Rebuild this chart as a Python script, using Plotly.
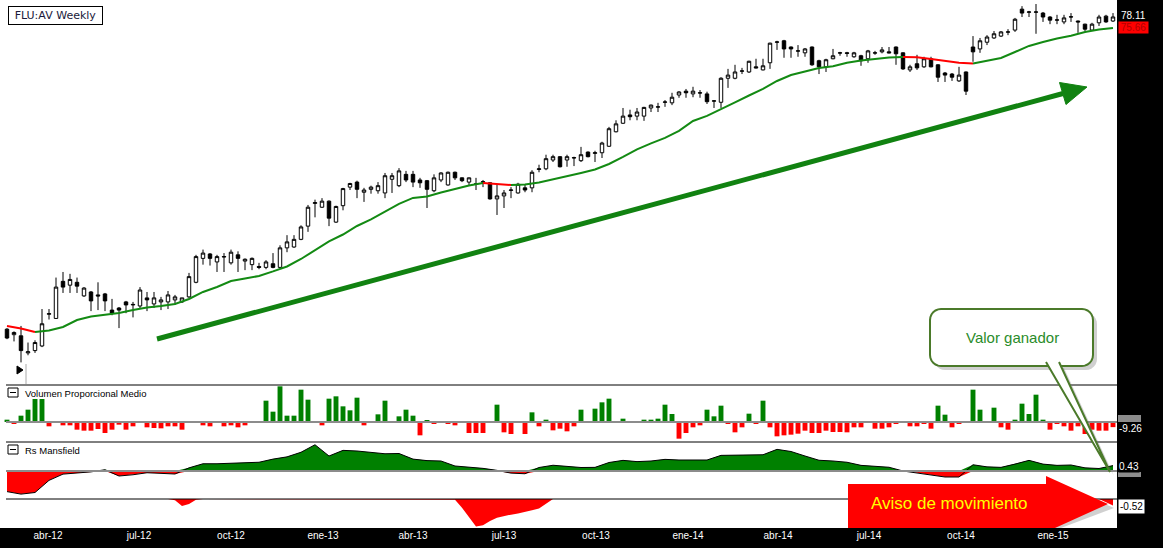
import math
import pandas as pd
import plotly.graph_objects as go
from plotly.subplots import make_subplots

# ---------------- data ----------------
first_week = "2012-02-20"          # first weekly bar
title_text = "FLU:AV Weekly"

open_ = [31.6, 31.1, 31.0, 29.5, 29.7, 30.1, 33.0, 32.6, 36.3, 35.9,
         36.2, 34.8, 35.2, 34.9, 35.0, 33.4, 33.6, 34.2, 33.9, 33.8,
         34.6, 34.0, 34.2, 34.2, 34.4, 34.2, 34.7, 36.2, 38.8, 39.3,
         38.4, 38.95, 38.3, 39.2, 38.5, 38.1, 37.9, 37.8, 38.2, 37.8,
         40.0, 40.1, 41.0, 42.6, 45.5, 45.0, 45.8, 43.1, 45.2, 47.7,
         48.4, 47.0, 47.4, 47.2, 46.9, 48.8, 47.9, 49.5, 49.5, 48.7,
         48.6, 47.2, 48.7, 48.0, 49.8, 49.0, 48.4, 48.1, 48.4, 48.3,
         46.1, 46.5, 47.25, 46.9, 47.6, 47.6, 50.2, 50.3, 51.6, 52.1,
         51.6, 51.9, 51.5, 52.8, 52.6, 52.7, 53.7, 56.0, 57.4, 58.8,
         58.6, 58.6, 60.0, 60.15, 61.0, 60.9, 62.3, 63.0, 62.5, 62.65,
         62.5, 61.2, 61.0, 65.4, 65.4, 66.75, 66.6, 67.6, 67.0, 68.4,
         72.6, 72.9, 71.6, 70.75, 70.4, 71.6, 68.8, 67.6, 69.2, 70.35,
         70.4, 69.6, 69.8, 69.2, 70.35, 70.6, 70.6, 71.6, 70.4, 67.0,
         68.2, 67.6, 69.2, 68.0, 66.4, 66.2, 64.9, 66.6, 71.6, 71.2,
         72.6, 73.5, 73.9, 74.75, 75.2, 79.9, 79.2, 79.2, 79.0, 78.1,
         77.4, 77.0, 78.1, 77.2, 76.5, 75.2, 76.8, 78.3, 77.2]

high = [31.7, 31.4, 31.9, 30.4, 30.6, 33.5, 33.5, 36.7, 37.3, 37.1,
        36.7, 35.7, 35.3, 36.2, 35.1, 34.5, 33.7, 34.3, 34.2, 35.7,
        35.2, 35.2, 34.7, 35.3, 34.9, 34.6, 37.2, 39.2, 39.8, 39.4,
        39.2, 39.4, 39.8, 39.6, 38.8, 38.9, 38.3, 38.6, 39.4, 40.3,
        41.5, 41.5, 42.7, 45.3, 46.0, 46.2, 45.9, 45.2, 47.6, 48.3,
        48.6, 47.6, 47.9, 48.4, 49.7, 49.7, 50.4, 50.0, 50.0, 49.0,
        48.7, 49.5, 49.8, 49.9, 49.9, 49.05, 49.05, 49.0, 48.7, 48.35,
        48.0, 47.3, 47.7, 48.3, 48.1, 50.1, 50.9, 52.4, 52.4, 52.2,
        52.4, 52.1, 53.6, 52.9, 53.0, 54.4, 56.8, 57.9, 60.0, 59.7,
        60.0, 60.2, 60.6, 60.9, 61.4, 62.7, 63.0, 63.4, 63.8, 63.2,
        62.9, 61.4, 65.6, 67.2, 68.0, 67.4, 68.8, 69.2, 69.2, 72.5,
        72.9, 73.1, 71.7, 72.0, 71.4, 71.7, 69.0, 69.2, 71.2, 70.6,
        70.6, 70.6, 70.0, 71.0, 70.8, 71.6, 71.6, 71.7, 70.5, 68.0,
        70.0, 69.6, 69.6, 68.1, 66.6, 66.4, 67.6, 66.7, 73.9, 73.5,
        74.1, 75.0, 75.0, 75.4, 77.9, 80.6, 79.5, 81.1, 79.25, 78.3,
        78.6, 78.6, 79.0, 77.3, 76.6, 76.8, 78.6, 78.6, 79.0]

low = [30.7, 30.5, 28.7, 29.3, 29.5, 30.0, 32.5, 32.6, 35.1, 35.1,
       35.1, 34.7, 33.3, 33.4, 33.3, 32.9, 31.7, 33.1, 32.7, 33.6,
       33.3, 33.6, 33.4, 33.5, 33.9, 34.1, 34.6, 36.1, 38.1, 38.0,
       37.3, 37.3, 38.1, 37.3, 37.5, 37.5, 37.6, 37.6, 37.7, 37.7,
       39.5, 40.0, 40.9, 41.9, 43.7, 44.9, 42.6, 43.0, 44.6, 47.3,
       46.2, 45.7, 46.8, 46.8, 46.2, 46.9, 47.7, 48.4, 47.7, 47.6,
       44.9, 47.0, 48.4, 47.9, 48.7, 48.4, 48.0, 47.3, 47.7, 46.0,
       44.0, 44.9, 46.2, 46.8, 47.0, 47.0, 49.8, 50.1, 51.3, 50.5,
       50.6, 50.7, 51.3, 52.0, 51.3, 51.9, 53.6, 55.9, 57.3, 57.9,
       57.9, 57.8, 59.3, 59.3, 60.2, 60.5, 61.8, 61.8, 61.9, 61.8,
       60.7, 60.0, 60.0, 63.6, 65.2, 66.2, 66.4, 67.3, 66.9, 67.2,
       71.0, 69.4, 69.4, 69.6, 69.6, 67.8, 66.2, 66.6, 69.1, 69.8,
       69.6, 69.4, 67.8, 68.4, 70.0, 70.3, 70.3, 68.0, 67.0, 66.6,
       67.0, 67.4, 67.5, 64.7, 64.7, 64.9, 64.7, 62.3, 68.6, 70.4,
       72.0, 73.3, 73.7, 74.1, 74.8, 78.1, 78.1, 74.4, 77.0, 76.5,
       76.5, 76.5, 77.0, 74.6, 75.0, 75.0, 76.1, 76.8, 77.0]

close = [30.8, 31.3, 29.7, 29.6, 30.4, 32.1, 33.05, 35.7, 35.7, 36.5,
         35.8, 35.6, 34.3, 34.8, 34.3, 33.1, 33.4, 33.9, 33.95, 35.4,
         34.4, 34.6, 34.4, 34.9, 34.7, 34.6, 36.8, 39.0, 39.4, 38.8,
         39.0, 39.0, 39.5, 38.8, 38.7, 38.8, 37.8, 38.4, 37.8, 40.0,
         40.7, 41.0, 42.5, 45.0, 45.6, 45.8, 43.6, 45.1, 47.5, 48.2,
         47.4, 47.3, 47.7, 47.9, 49.3, 49.3, 50.0, 48.7, 48.4, 48.3,
         47.4, 49.0, 49.7, 49.8, 49.0, 48.6, 49.0, 48.15, 48.45, 46.1,
         46.5, 46.9, 47.3, 48.1, 47.3, 49.8, 50.3, 51.8, 52.1, 50.6,
         52.1, 51.95, 52.4, 52.1, 52.7, 54.2, 56.5, 57.3, 58.6, 58.5,
         59.3, 60.1, 60.5, 60.2, 61.05, 61.9, 62.85, 62.7, 63.0, 62.7,
         61.1, 61.25, 65.4, 66.0, 66.6, 66.8, 68.7, 67.4, 67.8, 72.4,
         72.65, 71.2, 71.2, 70.8, 71.2, 68.0, 67.6, 69.0, 69.8, 70.4,
         70.3, 70.4, 68.8, 70.8, 70.4, 71.0, 70.4, 70.2, 67.2, 67.6,
         67.4, 69.2, 67.6, 65.6, 66.0, 65.6, 66.0, 63.0, 70.6, 72.9,
         73.7, 74.4, 74.8, 74.8, 77.6, 79.0, 79.25, 79.25, 78.1, 77.4,
         77.45, 77.9, 78.15, 77.0, 75.4, 76.5, 78.1, 77.0, 78.11]

# moving average, sampled every second week
ma_line = [31.90, 31.66, 31.35, 31.48, 31.80, 32.45, 32.79, 32.98, 33.12, 33.41,
           33.65, 33.80, 34.00, 34.49, 35.20, 35.71, 36.33, 36.60, 36.87, 37.36,
           37.90, 38.73, 39.76, 40.75, 41.58, 42.62, 43.43, 44.45, 45.43, 46.23,
           46.43, 46.97, 47.45, 47.93, 48.28, 48.14, 48.00, 48.07, 48.35, 48.77,
           49.20, 49.70, 50.20, 51.01, 52.06, 53.21, 54.14, 55.01, 56.14, 57.78,
           58.63, 59.75, 60.97, 62.21, 63.40, 64.88, 66.02, 66.70, 67.38, 67.73,
           68.42, 68.84, 69.16, 69.44, 69.56, 69.52, 69.16, 68.76, 68.40, 68.24,
           68.76, 69.36, 70.57, 71.82, 72.65, 73.39, 73.97, 74.79, 75.33, 75.66]

# "Volumen Proporcional Medio", weekly
volume_rel = [4.2, -3.6, 11.4, 22.2, 41.4, 41.4, -7.8, 0, -6, -6,
              -13.8, -15.6, -15.6, -12.6, -19.8, -13.8, -4.8, -13.8, -7.8, -1.8,
              -9.6, -10.8, -11.4, -7.8, -7.8, -13.8, 0, -1.8, -6, -7.8,
              0, -7.8, -6, -9.6, -6, 0, 0, 38.4, 18.6, 64.2,
              11.4, 11.4, 58.2, 40.2, 0, -6, 42, 46.2, 28.2, 21,
              43.8, -6, 0, 13.8, 38.4, 0, 10.2, 22.2, 11.4, -24,
              3, -3.6, 0, -3.6, -6, 0, -19.8, -19.8, -19.8, -1.8,
              31.2, -18.6, -21.6, 0, -21.6, 17.4, -7.8, 4.2, -15, -12,
              -16.8, -7.8, 22.2, 1.5, 24, 35.4, 42, 0, 6, 0,
              0, 4.2, 4.2, 6, 31.2, 14.4, -30, -19.8, -9.6, -6,
              22.2, 10.2, 29.4, -3.6, -18.6, -9.6, 15, -3.6, 38.4, -9.6,
              -25.8, -24, -22.8, -21, -15.6, -19.8, -19.8, -15.6, -18, -18,
              -18.6, -9.6, -9.6, 0, -12, -12, -9.6, -3.6, 0, -7.8,
              -7.8, -3.6, -12, 29.4, 13.2, -9.6, -3.6, -1.8, 58.2, 22.2,
              0, 25.8, -9.6, -13.8, 4.2, 33, 14.4, 49.2, 4.2, -13.8,
              -3.6, -7.8, -15.6, -7.8, -21.6, -13.8, -15.6, -15.6, -9.26]

# "Rs Mansfield", sampled every second week
rs_mansfield = [-1.65, -1.85, -1.72, -0.75, -0.25, -0.17, -0.07, 0.10, -0.40, -0.30,
                -0.14, -0.19, -0.24, 0.25, 0.58, 0.58, 0.64, 0.66, 0.70, 0.95,
                1.13, 1.50, 2.10, 1.20, 1.65, 1.60, 1.50, 1.38, 1.40, 0.95,
                0.83, 0.80, 0.40, 0.33, 0.21, 0.05, -0.17, -0.22, 0.28, 0.46,
                0.38, 0.28, 0.29, 0.68, 0.85, 0.75, 0.80, 0.93, 0.88, 0.88,
                0.88, 1.25, 1.25, 1.28, 1.30, 1.73, 1.56, 1.20, 0.86, 0.80,
                0.70, 0.45, 0.36, 0.30, 0.00, -0.14, -0.30, -0.48, -0.48, 0.50,
                0.33, 0.29, 0.55, 0.85, 0.55, 0.45, 0.48, 0.25, 0.20, 0.43]

# lower Rs band (only negative part is drawn), weekly
rs_lower = [0, 0, 0, 0, 0, 0, 0, 0, 0, 0, 0, 0,
            0, 0, 0, 0, 0, 0, 0, 0, 0, 0, 0, 0,
            -0.1, -0.55, -0.4, -0.05,
            0, 0, 0, 0, 0, 0, 0, 0, 0, 0, 0, 0,
            0, 0, 0, 0, 0, 0, 0, 0, 0, 0, 0, 0,
            0, 0, 0, 0, 0, 0, 0, 0, 0, 0, 0, 0,
            -0.05, -0.7, -1.5, -2.2, -2.1, -1.75, -1.5, -1.35, -1.25, -1.15,
            -1.05, -0.9, -0.75, -0.4,
            0, 0, 0, 0, 0, 0, 0, 0, 0, 0,
            0, 0, 0, 0, 0, 0, 0, 0, 0, 0,
            0, 0, 0, 0, 0, 0, 0, 0, 0, 0,
            0, 0, 0, 0, 0, 0, 0, 0, 0, 0,
            0, 0, 0, 0, 0, 0, 0, 0, 0, 0,
            0, 0, 0, 0, 0, 0, 0, 0, 0, 0,
            0, 0, 0, 0, 0, 0, 0, 0, 0, 0,
            0, 0, 0, 0, 0, 0, 0, 0, 0,
            -0.25, -0.52]

month_ticks = ["2012-04-01", "2012-07-01", "2012-10-01", "2013-01-01", "2013-04-01",
               "2013-07-01", "2013-10-01", "2014-01-01", "2014-04-01", "2014-07-01",
               "2014-10-01", "2015-01-01"]
month_labels = ["abr-12", "jul-12", "oct-12", "ene-13", "abr-13", "jul-13",
                "oct-13", "ene-14", "abr-14", "jul-14", "oct-14", "ene-15"]

volume_title = "Volumen Proporcional Medio"
rs_title = "Rs Mansfield"
callout_text = "Valor ganador"
warning_text = "Aviso de movimiento"

# ---------------- styling / layout ----------------
W, H = 1163, 548
MR, MB = 46, 20
PW, PH = W - MR, H - MB          # plot area in pixels
FONT = "Liberation Sans"
GREEN = "#008000"
MA_UP = "#138a13"
RED = "#ff0000"
OLIVE = "#4b7a2a"

dates = pd.date_range(first_week, periods=len(close), freq="7D")
half_dates = dates[::2]
x_range = [dates[0] - pd.Timedelta(days=7), dates[0] + pd.Timedelta(days=PW - 7)]


def P(x, y):
    return x / PW, 1 - y / PH


def poly_path(pts, close_path=True):
    s = ""
    for i, (x, y) in enumerate(pts):
        u, v = P(x, y)
        s += ("M" if i == 0 else "L") + f"{u:.5f},{v:.5f} "
    return s + ("Z" if close_path else "")


def rounded_rect(x0, y0, x1, y1, r, n=6):
    pts = []
    for cx, cy, a0, a1 in [(x1 - r, y0 + r, -90, 0), (x1 - r, y1 - r, 0, 90),
                           (x0 + r, y1 - r, 90, 180), (x0 + r, y0 + r, 180, 270)]:
        for k in range(n + 1):
            a = math.radians(a0 + (a1 - a0) * k / n)
            pts.append((cx + r * math.cos(a), cy + r * math.sin(a)))
    return pts


fig = make_subplots(rows=4, cols=1, shared_xaxes=True, vertical_spacing=0)

# price candles
fig.add_trace(go.Candlestick(
    x=dates, open=open_, high=high, low=low, close=close,
    increasing=dict(line=dict(color="black", width=1), fillcolor="white"),
    decreasing=dict(line=dict(color="black", width=1), fillcolor="black"),
    whiskerwidth=0, showlegend=False, hoverinfo="skip"), row=1, col=1)

# moving average coloured by direction
runs = []
for i in range(1, len(ma_line)):
    col = MA_UP if ma_line[i] >= ma_line[i - 1] else RED
    if runs and runs[-1][0] == col:
        runs[-1][1].append(i)
    else:
        runs.append([col, [i - 1, i]])
for col, idx in runs:
    fig.add_trace(go.Scatter(x=[half_dates[j] for j in idx], y=[ma_line[j] for j in idx],
                             mode="lines", line=dict(color=col, width=2),
                             showlegend=False, hoverinfo="skip"), row=1, col=1)

# volume bars
fig.add_trace(go.Bar(x=dates, y=volume_rel,
                     marker=dict(color=[GREEN if v >= 0 else RED for v in volume_rel], line_width=0),
                     showlegend=False, hoverinfo="skip"), row=2, col=1)

# Rs Mansfield area
fig.add_trace(go.Scatter(x=half_dates, y=[max(v, 0) for v in rs_mansfield], mode="lines",
                         fill="tozeroy", fillcolor=GREEN, line=dict(width=0),
                         showlegend=False, hoverinfo="skip"), row=3, col=1)
fig.add_trace(go.Scatter(x=half_dates, y=[min(v, 0) for v in rs_mansfield], mode="lines",
                         fill="tozeroy", fillcolor=RED, line=dict(width=0),
                         showlegend=False, hoverinfo="skip"), row=3, col=1)
fig.add_trace(go.Scatter(x=half_dates, y=rs_mansfield, mode="lines",
                         line=dict(color="black", width=1),
                         showlegend=False, hoverinfo="skip"), row=3, col=1)

# lower band
fig.add_trace(go.Scatter(x=dates, y=rs_lower, mode="lines", fill="tozeroy",
                         fillcolor=RED, line=dict(width=0, color=RED),
                         showlegend=False, hoverinfo="skip"), row=4, col=1)

price_bottom, price_top = 26.88, 82.05
domains = {
    "yaxis": [P(0, 385)[1], 1.0],
    "yaxis2": [P(0, 442)[1], P(0, 385)[1]],
    "yaxis3": [P(0, 499)[1], P(0, 442)[1]],
    "yaxis4": [0.0, P(0, 499)[1]],
}
ranges = {
    "yaxis": [math.log10(price_bottom), math.log10(price_top)],
    "yaxis2": [-36, 66.6],
    "yaxis3": [-2.24, 2.32],
    "yaxis4": [-2.32, 0],
}
for ax in domains:
    fig.layout[ax].update(domain=domains[ax], range=ranges[ax], showgrid=False,
                          zeroline=False, showticklabels=False, ticks="", fixedrange=True)
fig.layout["yaxis"].type = "log"

for ax in ["xaxis", "xaxis2", "xaxis3", "xaxis4"]:
    fig.layout[ax].update(range=x_range, showgrid=False, zeroline=False,
                          showticklabels=False, ticks="", rangeslider=dict(visible=False),
                          showline=False)
fig.layout["xaxis4"].update(showticklabels=True, tickvals=month_ticks, ticktext=month_labels,
                            tickfont=dict(color="white", size=10, family=FONT))

shapes = []
x_left = P(6, 0)[0]
for yy in [385, 442, 499]:
    shapes.append(dict(type="line", xref="paper", yref="paper", x0=x_left, x1=1,
                       y0=P(0, yy)[1], y1=P(0, yy)[1], line=dict(color="black", width=1)))
for yref in ["y2", "y3"]:
    shapes.append(dict(type="line", xref="paper", yref=yref, x0=x_left, x1=1, y0=0, y1=0,
                       line=dict(color="#8c8c8c", width=2)))

# green trend arrow
u0, v0 = P(157, 339)
u1, v1 = P(1063, 93.5)
shapes.append(dict(type="line", xref="paper", yref="paper", x0=u0, y0=v0, x1=u1, y1=v1,
                   line=dict(color="#118211", width=5)))
shapes.append(dict(type="path", xref="paper", yref="paper",
                   path=poly_path([(1087, 87), (1059.5, 82.5), (1066, 104.5)]),
                   fillcolor="#118211", line=dict(color="#118211", width=1)))

# callout "Valor ganador"
shapes.append(dict(type="path", xref="paper", yref="paper",
                   path=poly_path(rounded_rect(934, 313, 1097, 370, 11)),
                   fillcolor="rgba(120,120,120,0.35)", line=dict(width=0)))
shapes.append(dict(type="path", xref="paper", yref="paper",
                   path=poly_path([(1052, 368), (1114, 476), (1064, 368)]),
                   fillcolor="rgba(120,120,120,0.35)", line=dict(width=0)))
shapes.append(dict(type="path", xref="paper", yref="paper",
                   path=poly_path(rounded_rect(930, 309, 1093, 366, 11)),
                   fillcolor="white", line=dict(color=OLIVE, width=2)))
shapes.append(dict(type="path", xref="paper", yref="paper",
                   path=poly_path([(1046, 362), (1110, 472), (1059, 362)], close_path=False),
                   fillcolor="white", line=dict(color=OLIVE, width=2)))

# red warning arrow
shapes.append(dict(type="path", xref="paper", yref="paper",
                   path=poly_path([(1052, 480), (1114, 508), (1061, 528), (1052, 528)]),
                   fillcolor="rgba(120,120,120,0.35)", line=dict(width=0)))
shapes.append(dict(type="path", xref="paper", yref="paper",
                   path=poly_path([(848, 484), (1046, 484), (1046, 476), (1108, 504),
                                   (1055, 528), (848, 528)]),
                   fillcolor=RED, line=dict(width=0)))

# panel collapse icons and small play marker
for top in [388, 445]:
    a0, b0 = P(8, top)
    a1, b1 = P(18, top + 9)
    shapes.append(dict(type="rect", xref="paper", yref="paper", x0=a0, y0=b1, x1=a1, y1=b0,
                       line=dict(color="black", width=1), fillcolor="white"))
    m0, mm = P(10, top + 4.5)
    m1, _ = P(16, top + 4.5)
    shapes.append(dict(type="line", xref="paper", yref="paper", x0=m0, x1=m1, y0=mm, y1=mm,
                       line=dict(color="black", width=1)))
shapes.append(dict(type="path", xref="paper", yref="paper",
                   path=poly_path([(17, 366), (23, 370), (17, 374)]),
                   fillcolor="black", line=dict(color="black", width=1)))
g0, gy0 = P(26, 364)
_, gy1 = P(26, 384)
shapes.append(dict(type="line", xref="paper", yref="paper", x0=g0, x1=g0, y0=gy0, y1=gy1,
                   line=dict(color="#aaaaaa", width=1)))

# small grey marker boxes behind the right-hand value labels
for (bx0, by0, bx1, by1) in [(1118, 415, 1141, 422), (1118, 472, 1141, 477)]:
    a0, b0 = P(bx0, by0)
    a1, b1 = P(bx1, by1)
    shapes.append(dict(type="rect", xref="paper", yref="paper", x0=a0, y0=b1, x1=a1, y1=b0,
                       line=dict(width=0), fillcolor="#8c8c8c"))

annotations = []


def note(text, x, y, size=10, color="black", xanchor="left", family=FONT, **kw):
    u, v = P(x, y)
    annotations.append(dict(text=text, x=u, y=v, xref="paper", yref="paper",
                            xanchor=xanchor, yanchor="middle", showarrow=False,
                            font=dict(size=size, color=color, family=family), **kw))


note(title_text, 8, 15, size=11, color="#1a1a3a", family="DejaVu Sans",
     bgcolor="white", bordercolor="black", borderwidth=1, borderpad=2, width=89)
note(volume_title, 23, 393, size=9.5)
note(rs_title, 23, 450, size=9.5)
note(callout_text, 1012, 337, size=15, color="#2a8c2a", xanchor="center")
note(warning_text, 949, 503, size=17, color="#ffff00", xanchor="center")

# right-hand value labels
note(f"{close[-1]:.2f}", 1119, 16, color="white")
note(f"{ma_line[-1]:.2f}", 1118, 27.5, color="#b00000", bgcolor=RED, borderpad=0, width=29)
note(f"{volume_rel[-1]:.2f}", 1118, 428, color="white", bgcolor="black", borderpad=0)
note(f"{rs_mansfield[-1]:.2f}", 1118, 466, color="white", bgcolor="black", borderpad=0)
note(f"{rs_lower[-1]:.2f}", 1118, 506, color="black", bgcolor="white", borderpad=1)

fig.update_layout(
    width=W, height=H, margin=dict(l=0, r=MR, t=0, b=MB, pad=0),
    paper_bgcolor="black", plot_bgcolor="white",
    font=dict(family=FONT, size=10),
    showlegend=False, hovermode=False, bargap=0.3,
    shapes=shapes, annotations=annotations,
)

fig.write_html("out.html", config={"displayModeBar": False},
               post_script="document.body.style.margin='0';document.body.style.overflow='hidden';")
